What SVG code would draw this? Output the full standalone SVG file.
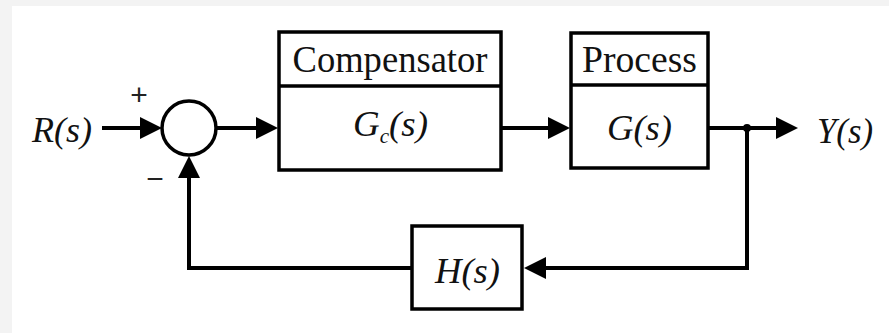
<svg xmlns="http://www.w3.org/2000/svg" width="889" height="333" viewBox="0 0 889 333">
<defs>
<style>
.box{fill:#fff;stroke:#000;stroke-width:3.5}
.div{stroke:#000;stroke-width:3.5}
.wire{fill:none;stroke:#000;stroke-width:4}
.title{font-family:"Liberation Serif",serif;font-size:37px;fill:#111}
.math{font-family:"Liberation Serif",serif;font-style:italic;font-size:35px;fill:#111}
.sign{font-family:"Liberation Sans",sans-serif;font-size:30px;fill:#222}
</style>
<marker id="arr" viewBox="0 0 22 22" refX="12" refY="11" markerWidth="22" markerHeight="22" markerUnits="userSpaceOnUse" orient="auto">
<path d="M0,0 L22,11 L0,22 z" fill="#000"/>
</marker>
</defs>
<rect x="0" y="0" width="889" height="333" fill="#f3f3f3"/>
<rect x="12" y="6" width="877" height="327" fill="#fff"/>

<g id="connectors">
<line class="wire" x1="102" y1="128" x2="152" y2="128" marker-end="url(#arr)"/>
<line class="wire" x1="216" y1="128" x2="268" y2="128" marker-end="url(#arr)"/>
<line class="wire" x1="501" y1="128" x2="560" y2="128" marker-end="url(#arr)"/>
<line class="wire" x1="708" y1="128" x2="788" y2="128" marker-end="url(#arr)"/>
<path class="wire" d="M747,128 V268 H534" marker-end="url(#arr)"/>
<path class="wire" d="M412,268 H189 V166" marker-end="url(#arr)"/>
<circle cx="747" cy="128" r="4" fill="#000"/>
</g>

<g id="input">
<text class="math" x="32" y="142" textLength="60" lengthAdjust="spacingAndGlyphs">R(s)</text>
</g>

<g id="sum">
<circle cx="189" cy="128" r="27" fill="#fff" stroke="#000" stroke-width="3.5"/>
<text class="sign" x="139" y="105" text-anchor="middle">+</text>
<text class="sign" x="155" y="189" text-anchor="middle">−</text>
</g>

<g id="compensator">
<rect class="box" x="279" y="32" width="222" height="138"/>
<line class="div" x1="279" y1="86" x2="501" y2="86"/>
<text class="title" x="390" y="72" text-anchor="middle" textLength="195" lengthAdjust="spacingAndGlyphs">Compensator</text>
<text class="math" x="353" y="136" textLength="75" lengthAdjust="spacingAndGlyphs">G<tspan font-size="20" dy="7">c</tspan><tspan dy="-7">(s)</tspan></text>
</g>

<g id="process">
<rect class="box" x="571" y="33" width="137" height="135"/>
<line class="div" x1="571" y1="85" x2="708" y2="85"/>
<text class="title" x="639.5" y="72" text-anchor="middle" textLength="115" lengthAdjust="spacingAndGlyphs">Process</text>
<text class="math" x="607" y="140" textLength="65" lengthAdjust="spacingAndGlyphs">G(s)</text>
</g>

<g id="feedback">
<rect class="box" x="412" y="226" width="110" height="83"/>
<text class="math" x="435" y="283" textLength="65" lengthAdjust="spacingAndGlyphs">H(s)</text>
</g>

<g id="output">
<text class="math" x="817" y="143" textLength="56" lengthAdjust="spacingAndGlyphs">Y(s)</text>
</g>
</svg>
